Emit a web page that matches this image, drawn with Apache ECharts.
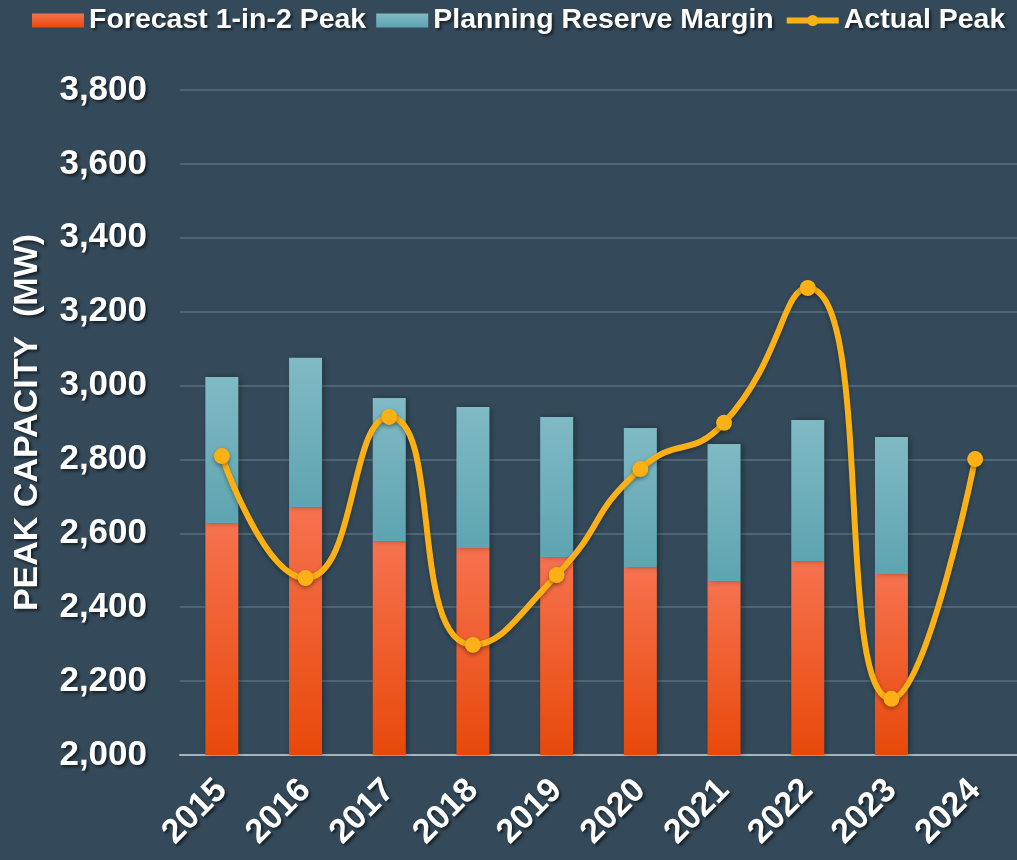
<!DOCTYPE html>
<html>
<head>
<meta charset="utf-8">
<script src="https://cdn.jsdelivr.net/npm/echarts@6/dist/echarts.min.js"></script>
<style>
    html, body { margin: 0; padding: 0; background: #344a5a; }
    #chart { width: 1017px; height: 860px; }
</style>
</head>
<body>
<div id="chart"></div>
<script>
var years = ['2015', '2016', '2017', '2018', '2019', '2020', '2021', '2022', '2023', '2024'];
var forecastPeak = [2628, 2671, 2579, 2560, 2536, 2509, 2471, 2525, 2490, null];
var reserveMargin = [395, 404, 387, 382, 379, 376, 371, 382, 371, null];
var actualPeak = [2809, 2479, 2915, 2298, 2487, 2774, 2899, 3264, 2152, 2801];

var shadow = {
    textShadowColor: 'rgba(0, 0, 0, 0.6)',
    textShadowBlur: 3,
    textShadowOffsetX: 2,
    textShadowOffsetY: 2
};

function txt(size, extra) {
    var o = {
        color: '#ffffff',
        fontFamily: 'Liberation Sans, Arial, sans-serif',
        fontWeight: 'bold',
        fontSize: size
    };
    for (var k in shadow) o[k] = shadow[k];
    for (var k2 in (extra || {})) o[k2] = extra[k2];
    return o;
}

var chart = echarts.init(document.getElementById('chart'));

var option = {
    backgroundColor: '#344a5a',
    animation: false,
    legend: {
        left: 32,
        top: 6,
        padding: 0,
        width: 985,
        itemWidth: 52,
        itemHeight: 14,
        itemGap: 10,
        textStyle: txt(28.5),
        data: [
            {name: 'Forecast 1-in-2 Peak', icon: 'rect'},
            {name: 'Planning Reserve Margin', icon: 'rect'},
            {name: 'Actual Peak', itemStyle: {color: '#fbb116'}, lineStyle: {width: 6, color: '#fbb116'}}
        ]
    },
    grid: {
        left: 180,
        right: 0,
        top: 90,
        bottom: 105,
        outerBoundsMode: 'none'
    },
    xAxis: {
        type: 'category',
        data: years,
        axisLine: {lineStyle: {color: '#a9b3ba', width: 2}},
        axisTick: {show: false},
        axisLabel: txt(34, {rotate: 45, margin: 30, interval: 0})
    },
    yAxis: {
        type: 'value',
        min: 2000,
        max: 3800,
        interval: 200,
        name: 'PEAK CAPACITY  (MW)',
        nameLocation: 'middle',
        nameGap: 135,
        nameTextStyle: txt(34),
        axisLine: {show: false},
        axisTick: {show: false},
        splitLine: {lineStyle: {color: '#4f6674', width: 2}},
        axisLabel: txt(35, {
            margin: 33,
            formatter: function (v) { return v.toLocaleString('en-US'); }
        })
    },
    series: [
        {
            name: 'Forecast 1-in-2 Peak',
            type: 'bar',
            stack: 'cap',
            barWidth: 33,
            data: forecastPeak,
            itemStyle: {
                color: new echarts.graphic.LinearGradient(0, 0, 0, 1, [
                    {offset: 0, color: '#f6724f'},
                    {offset: 1, color: '#e8490a'}
                ]),
                shadowColor: 'rgba(0, 0, 0, 0.35)',
                shadowBlur: 6,
                shadowOffsetX: 2
            }
        },
        {
            name: 'Planning Reserve Margin',
            type: 'bar',
            stack: 'cap',
            barWidth: 33,
            data: reserveMargin,
            itemStyle: {
                color: new echarts.graphic.LinearGradient(0, 0, 0, 1, [
                    {offset: 0, color: '#80bac4'},
                    {offset: 1, color: '#5ea4b1'}
                ]),
                shadowColor: 'rgba(0, 0, 0, 0.35)',
                shadowBlur: 6,
                shadowOffsetX: 2
            }
        },
        {
            name: 'Actual Peak',
            type: 'line',
            smooth: 0.55,
            data: actualPeak,
            symbol: 'circle',
            symbolSize: 16,
            z: 5,
            lineStyle: {
                color: '#fbb116',
                width: 6,
                shadowColor: 'rgba(0, 0, 0, 0.35)',
                shadowBlur: 4,
                shadowOffsetY: 2
            },
            itemStyle: {
                color: '#fbb116',
                shadowColor: 'rgba(0, 0, 0, 0.35)',
                shadowBlur: 4,
                shadowOffsetY: 2
            }
        }
    ]
};

chart.setOption(option);
</script>
</body>
</html>
